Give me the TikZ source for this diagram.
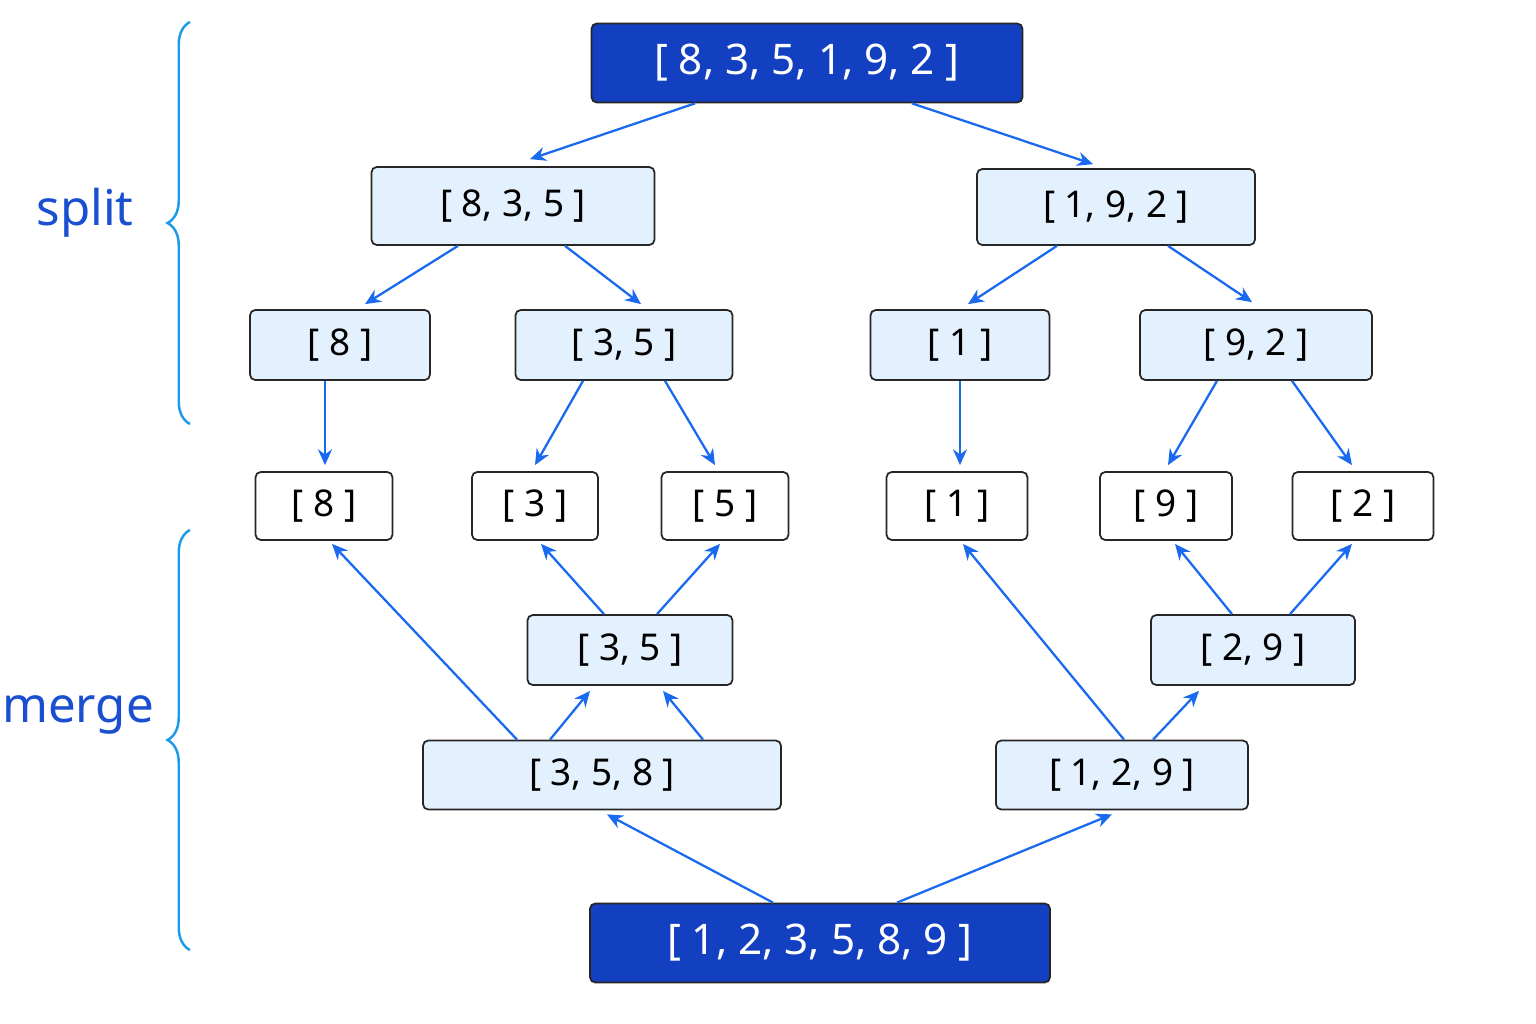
\documentclass[tikz,border=0pt]{standalone}
\usepackage{fontspec}
\setmainfont{Noto Sans}
\usetikzlibrary{calc,arrows.meta,decorations.pathreplacing}
\definecolor{dk}{HTML}{1340C0}
\definecolor{lt}{HTML}{E3F0FD}
\definecolor{ar}{HTML}{1A6AF0}
\definecolor{br}{HTML}{1E9BE8}
\definecolor{lb}{HTML}{1A4FD0}
\begin{document}
\begin{tikzpicture}[x=0.02cm,y=-0.02cm,
 box/.style={draw=black!85,line width=1pt,rounded corners=3pt,fill=lt,font=\bfseries\fontsize{21}{24}\selectfont,inner sep=0pt,minimum height=70*0.02cm},
 leaf/.style={box,fill=white,minimum height=68*0.02cm},
 dbox/.style={box,fill=dk,text=white,font=\bfseries\fontsize{24}{28}\selectfont,minimum height=79*0.02cm},
 a/.style={draw=ar,line width=1.3pt,-{Stealth[length=9pt,width=8pt]}},
 brc/.style={draw=br,line width=1.4pt,decorate,decoration={brace,amplitude=0.45cm}},
 lab/.style={text=lb,font=\bfseries\fontsize{28}{32}\selectfont}]
\useasboundingbox (0,0) rectangle (1536,1024);
\node[dbox,minimum width=431*0.02cm] (top) at (807,63) {[ 8, 3, 5, 1, 9, 2 ]};
\node[box,minimum width=283*0.02cm,minimum height=78*0.02cm] (A) at (513,206) {[ 8, 3, 5 ]};
\node[box,minimum width=278*0.02cm,minimum height=76*0.02cm] (B) at (1116,207) {[ 1, 9, 2 ]};
\node[box,minimum width=180*0.02cm] (C) at (340,345) {[ 8 ]};
\node[box,minimum width=217*0.02cm] (D) at (624,345) {[ 3, 5 ]};
\node[box,minimum width=179*0.02cm] (E) at (960,345) {[ 1 ]};
\node[box,minimum width=232*0.02cm] (F) at (1256,345) {[ 9, 2 ]};
\node[leaf,minimum width=137*0.02cm] (L8) at (324,506) {[ 8 ]};
\node[leaf,minimum width=126*0.02cm] (L3) at (535,506) {[ 3 ]};
\node[leaf,minimum width=127*0.02cm] (L5) at (725,506) {[ 5 ]};
\node[leaf,minimum width=141*0.02cm] (L1) at (957,506) {[ 1 ]};
\node[leaf,minimum width=132*0.02cm] (L9) at (1166,506) {[ 9 ]};
\node[leaf,minimum width=141*0.02cm] (L2) at (1363,506) {[ 2 ]};
\node[box,minimum width=205*0.02cm] (M1) at (630,650) {[ 3, 5 ]};
\node[box,minimum width=204*0.02cm] (M2) at (1253,650) {[ 2, 9 ]};
\node[box,minimum width=358*0.02cm,minimum height=69*0.02cm] (N1) at (602,775) {[ 3, 5, 8 ]};
\node[box,minimum width=252*0.02cm,minimum height=69*0.02cm] (N2) at (1122,775) {[ 1, 2, 9 ]};
\node[dbox,minimum width=460*0.02cm] (bot) at (820,943) {[ 1, 2, 3, 5, 8, 9 ]};
% split arrows
\draw[a] ($(top.south)+(-112,0)$) -- ($(A.north)+(17,-7)$);
\draw[a] ($(top.south)+(105,0)$) -- ($(B.north)+(-23,-4)$);
\draw[a] ($(A.south)+(-55,0)$) -- ($(C.north)+(25,-5)$);
\draw[a] ($(A.south)+(52,0)$) -- ($(D.north)+(17,-5)$);
\draw[a] ($(B.south)+(-59,0)$) -- ($(E.north)+(8,-5)$);
\draw[a] ($(B.south)+(52,0)$) -- ($(F.north)+(-4,-7)$);
\draw[a] ($(C.south)+(-15,0)$) -- ($(L8.north)+(1,-6)$);
\draw[a] ($(D.south)+(-41,0)$) -- ($(L3.north)+(0,-6)$);
\draw[a] ($(D.south)+(41,0)$) -- ($(L5.north)+(-10,-6)$);
\draw[a] (E.south) -- ($(L1.north)+(3,-6)$);
\draw[a] ($(F.south)+(-39,0)$) -- ($(L9.north)+(2,-6)$);
\draw[a] ($(F.south)+(36,0)$) -- ($(L2.north)+(-11,-6)$);
% merge arrows
\draw[a] ($(N1.north)+(-85,0)$) -- ($(L8.south)+(8,3)$);
\draw[a] ($(N1.north)+(-52,0)$) -- ($(M1.south)+(-40,5)$);
\draw[a] ($(N1.north)+(101,0)$) -- ($(M1.south)+(33,5)$);
\draw[a] ($(M1.north)+(-26,0)$) -- ($(L3.south)+(6,3)$);
\draw[a] ($(M1.north)+(27,0)$) -- ($(L5.south)+(-5,3)$);
\draw[a] ($(N2.north)+(2,0)$) -- ($(L1.south)+(6,3)$);
\draw[a] ($(N2.north)+(31,0)$) -- ($(M2.south)+(-54,5)$);
\draw[a] ($(M2.north)+(-21,0)$) -- ($(L9.south)+(9,3)$);
\draw[a] ($(M2.north)+(37,0)$) -- ($(L2.south)+(-11,3)$);
\draw[a] ($(bot.north)+(-47,0)$) -- ($(N1.south)+(5,4)$);
\draw[a] ($(bot.north)+(77,0)$) -- ($(N2.south)+(-10,4)$);
% braces
\coordinate (s1) at (190,424); \coordinate (s2) at (190,22);
\coordinate (m1) at (190,950); \coordinate (m2) at (190,530);
\draw[brc] (s1) -- (s2);
\draw[brc] (m1) -- (m2);
\node[lab] (split) at (85,213) {split};
\node[lab] (merge) at (78,715) {merge};
\end{tikzpicture}
\end{document}
